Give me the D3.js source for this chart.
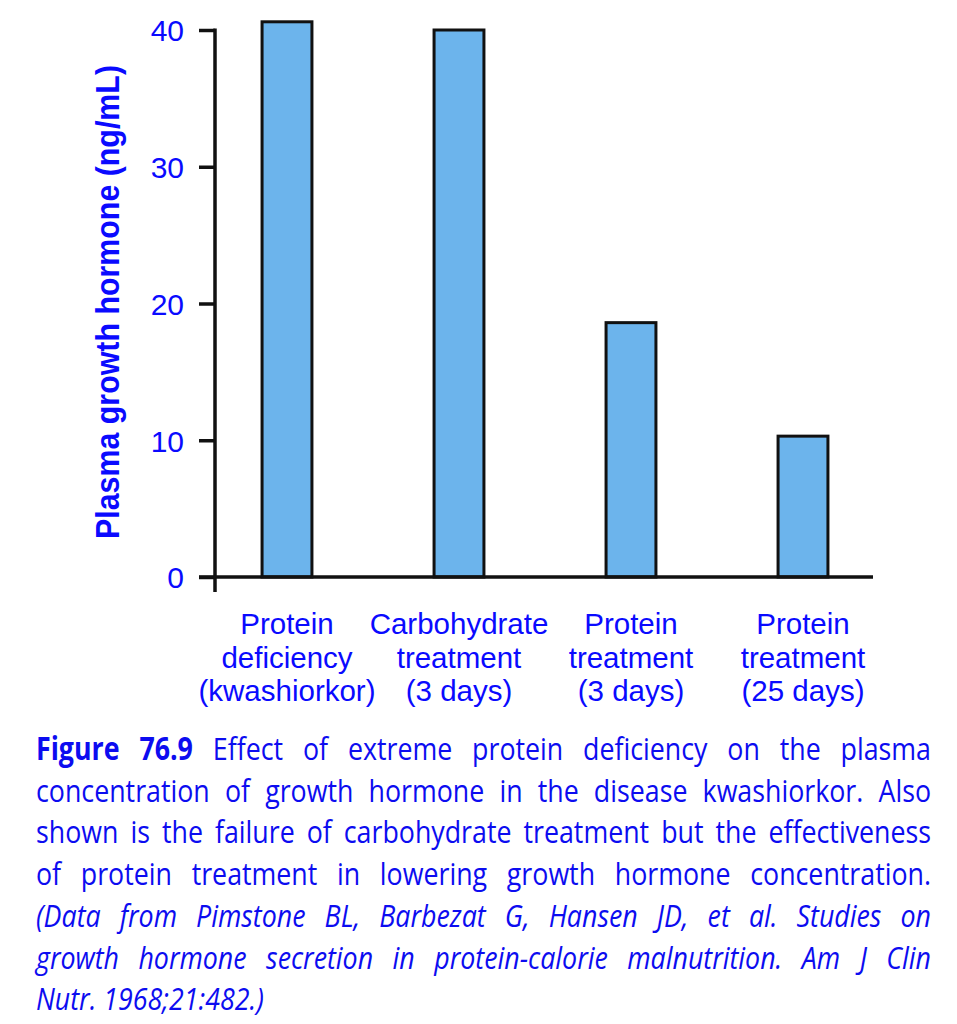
<!DOCTYPE html>
<html><head><meta charset="utf-8">
<script src="https://cdn.jsdelivr.net/npm/d3@7/dist/d3.min.js"></script>
<style>html,body{margin:0;padding:0;background:#fff;}</style>
</head><body>
<svg id="chart" width="957" height="1024"></svg>
<script>
// ---- data ----
const categories = [
  ["Protein", "deficiency", "(kwashiorkor)"],
  ["Carbohydrate", "treatment", "(3 days)"],
  ["Protein", "treatment", "(3 days)"],
  ["Protein", "treatment", "(25 days)"]
];
const values = [40.6, 40.0, 18.6, 10.3];
const yTicks = [0, 10, 20, 30, 40];
const yLabel = "Plasma growth hormone (ng/mL)";
const captionLines = [
  [["Figure 76.9", "bold"], ["Effect of extreme protein deficiency on the plasma", "normal"]],
  [["concentration of growth hormone in the disease kwashiorkor. Also", "normal"]],
  [["shown is the failure of carbohydrate treatment but the effectiveness", "normal"]],
  [["of protein treatment in lowering growth hormone concentration.", "normal"]],
  [["(Data from Pimstone BL, Barbezat G, Hansen JD, et al. Studies on", "italic"]],
  [["growth hormone secretion in protein-calorie malnutrition. Am J Clin", "italic"]],
  [["Nutr. 1968;21:482.)", "italic"]]
];

// ---- drawing ----
const svg = d3.select("#chart");
const blue = "#0a0aff";
const keys = categories.map((c, i) => i);

const x = d3.scaleBand().domain(keys).range([201, 889]).padding(0);
const y = d3.scaleLinear().domain([0, 40]).range([577, 30]);
const barW = x.bandwidth() * 0.29;

// bars
svg.append("g").selectAll("rect").data(values).join("rect")
  .attr("x", (d, i) => x(i) + (x.bandwidth() - barW) / 2)
  .attr("y", d => y(d))
  .attr("width", barW)
  .attr("height", d => y(0) - y(d))
  .attr("fill", "#6cb4ec")
  .attr("stroke", "#111")
  .attr("stroke-width", 3);

// y axis
const yAxis = d3.axisLeft(y).tickValues(yTicks).tickSize(16).tickPadding(15).tickSizeOuter(0);
const gy = svg.append("g").attr("transform", "translate(215,0)").call(yAxis);
gy.select(".domain").remove();
gy.selectAll(".tick line").attr("stroke", "#111").attr("stroke-width", 3.5);
gy.selectAll(".tick text").attr("fill", blue)
  .style("font-family", "'Liberation Sans', Arial, sans-serif").style("font-size", "30px")
  .attr("dy", "0.36em");
gy.append("line").attr("x1", 0).attr("x2", 0).attr("y1", y(40) - 1.5).attr("y2", y(0) + 15)
  .attr("stroke", "#111").attr("stroke-width", 3.5);

// x axis line
svg.append("line").attr("x1", 199).attr("x2", 873).attr("y1", y(0)).attr("y2", y(0))
  .attr("stroke", "#111").attr("stroke-width", 3.5);

// x labels
const xl = svg.append("g").selectAll("text").data(categories).join("text")
  .attr("text-anchor", "middle")
  .attr("fill", blue)
  .style("font-family", "'Liberation Sans', Arial, sans-serif")
  .style("font-size", "29.5px");
xl.selectAll("tspan").data((d, i) => d.map(t => ({t, i}))).join("tspan")
  .attr("x", d => x(d.i) + x.bandwidth() / 2)
  .attr("y", (d, j) => 634 + j * 33.5)
  .text(d => d.t);

// y label
svg.append("text")
  .attr("transform", "translate(119,302) rotate(-90)")
  .attr("text-anchor", "middle")
  .attr("fill", blue)
  .style("font-family", "'Liberation Sans', Arial, sans-serif")
  .style("font-weight", "bold")
  .style("font-size", "34px")
  .attr("textLength", 474)
  .attr("lengthAdjust", "spacingAndGlyphs")
  .text(yLabel);

// caption (justified)
const capLeft = 36, capRight = 931, sx = 0.85, capSize = 31.5;
const capColor = "#0c0cf0";
captionLines.forEach((line, li) => {
  const g = svg.append("g")
    .attr("transform", `translate(${capLeft},${760 + li * 41.7}) scale(${sx},1)`);
  const words = [];
  line.forEach(([txt, style]) => txt.split(" ").forEach(w => words.push({w, style})));
  const nodes = words.map(o => g.append("text")
    .attr("fill", capColor)
    .style("font-family", "'Open Sans', 'Noto Sans', sans-serif")
    .style("font-size", capSize + "px")
    .style("font-weight", o.style === "bold" ? "bold" : "500")
    .style("font-style", o.style === "italic" ? "italic" : "normal")
    .text(o.w));
  const widths = nodes.map(n => n.node().getComputedTextLength());
  const total = d3.sum(widths);
  const target = (capRight - capLeft) / sx;
  const last = li === captionLines.length - 1;
  const gap = last ? capSize * 0.26 : (target - total) / (words.length - 1);
  let cx = 0;
  nodes.forEach((n, i) => { n.attr("x", cx); cx += widths[i] + gap; });
});
</script>
</body></html>
